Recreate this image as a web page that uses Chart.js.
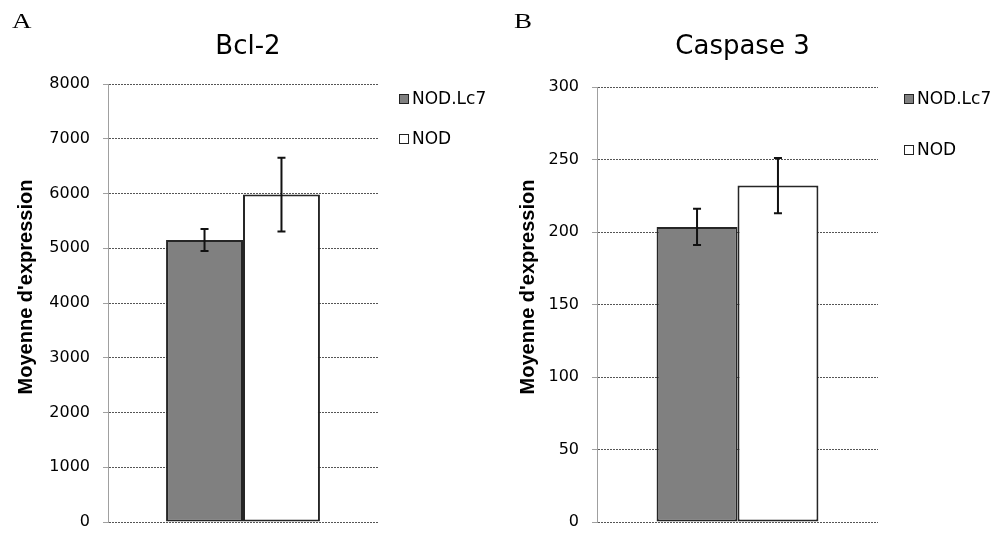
<!DOCTYPE html>
<html>
<head>
<meta charset="utf-8">
<script src="https://cdn.jsdelivr.net/npm/chart.js@4.4.1/dist/chart.umd.min.js"></script>
<style>
  body { margin: 0; background: #fff; }
  .panel { position: absolute; top: 0; width: 502px; height: 533px; }
</style>
</head>
<body>
<div class="panel" style="left:0"><canvas id="bcl2" width="502" height="533"></canvas></div>
<div class="panel" style="left:502px"><canvas id="casp3" width="502" height="533"></canvas></div>
<script>
// groups shown in both panels
const groups = ['NOD.Lc7', 'NOD'];
const groupColors = ['#808080', '#ffffff'];
const yTitle = "Moyenne d'expression";

// Bcl-2 means and error bars
const bcl2Mean = [5150, 5980];
const bcl2Err = [200, 675];
const bcl2Ticks = [0, 1000, 2000, 3000, 4000, 5000, 6000, 7000, 8000];

// Caspase 3 means and error bars
const casp3Mean = [203.5, 232];
const casp3Err = [12.5, 19];
const casp3Ticks = [0, 50, 100, 150, 200, 250, 300];

// +/- error whiskers on each bar
const errorBars = {
  id: 'errorBars',
  afterDatasetsDraw(chart, args, opts) {
    const ctx = chart.ctx;
    const y = chart.scales.y;
    ctx.save();
    ctx.strokeStyle = '#111';
    ctx.lineWidth = 2;
    chart.data.datasets.forEach((ds, i) => {
      const bar = chart.getDatasetMeta(i).data[0];
      const v = ds.data[0], e = opts.errors[i];
      const top = y.getPixelForValue(v + e);
      const bot = y.getPixelForValue(v - e);
      ctx.beginPath();
      ctx.moveTo(bar.x, top); ctx.lineTo(bar.x, bot);
      ctx.moveTo(bar.x - 4, top); ctx.lineTo(bar.x + 4, top);
      ctx.moveTo(bar.x - 4, bot); ctx.lineTo(bar.x + 4, bot);
      ctx.stroke();
    });
    ctx.restore();
  }
};

// legend to the right of the plot, one row per dataset
const sideLegend = {
  id: 'sideLegend',
  afterDraw(chart, args, opts) {
    const ctx = chart.ctx, area = chart.chartArea;
    ctx.save();
    ctx.font = '17px "DejaVu Sans"';
    ctx.textBaseline = 'middle';
    chart.data.datasets.forEach((ds, i) => {
      const x = Math.round(area.right + opts.dx);
      const y = Math.round(area.top + opts.dy + i * opts.gap);
      ctx.fillStyle = ds.backgroundColor;
      ctx.fillRect(x + 0.5, y - 4.5, 9, 9);
      ctx.strokeStyle = '#222';
      ctx.lineWidth = 1;
      ctx.strokeRect(x + 0.5, y - 4.5, 9, 9);
      ctx.fillStyle = '#000';
      ctx.fillText(ds.label, x + 13, y + 1);
    });
    ctx.restore();
  }
};

// panel letter, chart title and rotated y title
const panelText = {
  id: 'panelText',
  afterDraw(chart, args, opts) {
    const ctx = chart.ctx, area = chart.chartArea;
    ctx.save();
    ctx.fillStyle = '#000';
    ctx.textBaseline = 'alphabetic';

    ctx.save();
    ctx.translate(12, 28);
    ctx.scale(1.35, 1);
    ctx.font = '20px "Liberation Serif"';
    ctx.fillText(opts.letter, 0, 0);
    ctx.restore();

    ctx.font = '26px "DejaVu Sans"';
    ctx.textAlign = 'center';
    ctx.fillText(opts.title, (area.left + area.right) / 2 + 5, 54);

    ctx.translate(32, opts.yTitleCenter);
    ctx.rotate(-Math.PI / 2);
    ctx.font = 'bold 20px "Liberation Sans"';
    ctx.fillText(yTitle, 0, 0);
    ctx.restore();
  }
};

function buildChart(id, means, errs, ticks, o) {
  return new Chart(document.getElementById(id), {
    type: 'bar',
    data: {
      labels: [''],
      datasets: groups.map((g, i) => ({
        label: g,
        data: [means[i]],
        backgroundColor: groupColors[i],
        borderColor: '#262626',
        borderWidth: 2,
        borderSkipped: false,
        barPercentage: 1,
        categoryPercentage: o.catPct
      }))
    },
    plugins: [errorBars, sideLegend, panelText],
    options: {
      responsive: false,
      animation: false,
      layout: { padding: { left: 0, right: o.padRight, top: o.padTop, bottom: 0 } },
      plugins: {
        legend: { display: false },
        tooltip: { enabled: false },
        errorBars: { errors: errs },
        sideLegend: { dx: o.legendDx, dy: o.legendDy, gap: o.legendGap },
        panelText: { letter: o.letter, title: o.title, yTitleCenter: 287 }
      },
      scales: {
        x: {
          grid: { display: false },
          ticks: { display: false },
          border: { display: false },
          afterFit: s => { s.height = 11; }
        },
        y: {
          min: ticks[0],
          max: ticks[ticks.length - 1],
          afterFit: s => {
            s.width = o.axisWidth;
            // labels only need half their height past the plot edges
            s.paddingTop = 10;
            s.paddingBottom = 10;
          },
          afterBuildTicks: s => { s.ticks = ticks.map(v => ({ value: v })); },
          ticks: {
            color: '#000',
            font: { family: 'DejaVu Sans', size: 16 },
            padding: 13,
            callback: v => String(v)
          },
          grid: { color: '#555', tickLength: 5, tickColor: '#a0a0a0', tickBorderDash: [] },
          border: { color: '#a0a0a0', width: 1, dash: [2, 1] }
        }
      }
    }
  });
}

buildChart('bcl2', bcl2Mean, bcl2Err, bcl2Ticks, {
  letter: 'A', title: 'Bcl-2', axisWidth: 108, padRight: 124, padTop: 84,
  catPct: 0.57, legendDx: 21, legendDy: 15, legendGap: 40
});

buildChart('casp3', casp3Mean, casp3Err, casp3Ticks, {
  letter: 'B', title: 'Caspase 3', axisWidth: 95, padRight: 126, padTop: 87,
  catPct: 0.576, legendDx: 26, legendDy: 12, legendGap: 51
});
</script>
</body>
</html>
